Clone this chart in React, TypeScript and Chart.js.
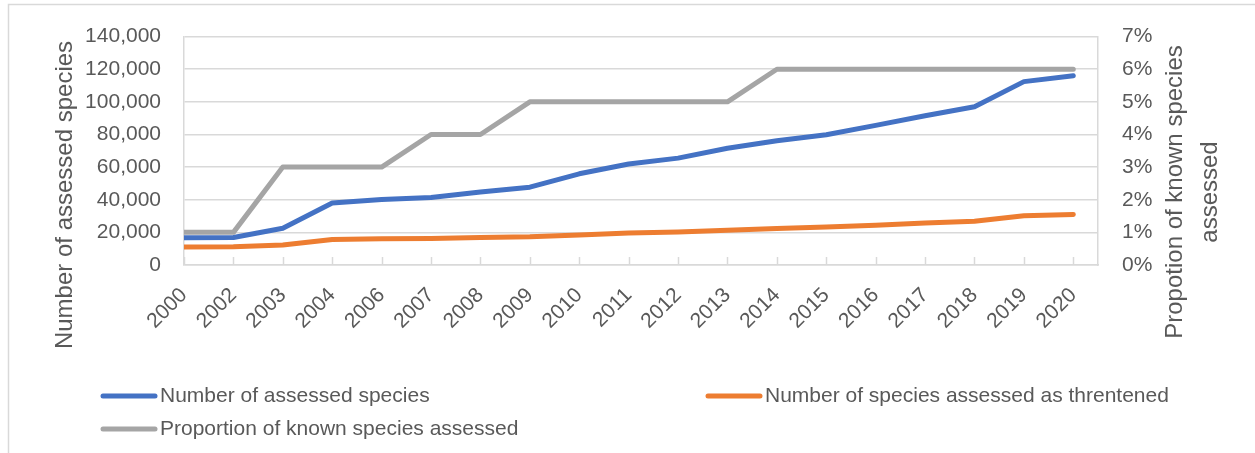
import React, { useEffect, useRef } from 'react';
import { Chart, registerables } from 'chart.js';

Chart.register(...registerables);

const years = ['2000', '2002', '2003', '2004', '2006', '2007', '2008', '2009', '2010', '2011', '2012', '2013', '2014', '2015', '2016', '2017', '2018', '2019', '2020'];
const assessedSpecies = [16700, 16900, 22500, 38000, 40200, 41400, 44800, 47700, 55900, 61900, 65500, 71600, 76200, 79800, 85600, 91500, 97000, 112400, 116000];
const threatenedSpecies = [11000, 11200, 12300, 15600, 16100, 16300, 16900, 17300, 18400, 19600, 20200, 21300, 22400, 23300, 24300, 25800, 26800, 30200, 31000];
const proportionAssessed = [1, 1, 3, 3, 3, 4, 4, 5, 5, 5, 5, 5, 6, 6, 6, 6, 6, 6, 6];

const seriesLabels = ['Number of assessed species', 'Number of species assessed as threntened', 'Proportion of known species assessed'];
const leftTitle = 'Number of assessed species';
const rightTitle = ['Propotion of known species', 'assessed'];

const BLUE = '#4472C4';
const ORANGE = '#ED7D31';
const GRAY = '#A5A5A5';
const GRID = '#d9d9d9';
const TEXT = '#595959';
const FONT = "'Liberation Sans', Arial, sans-serif";

const toPoints = (arr: number[]) => arr.map((v, i) => ({ x: i, y: v }));

const decor = {
  id: 'decor',
  beforeDraw(chart: any) {
    const ctx = chart.ctx;
    ctx.save();
    ctx.strokeStyle = GRID;
    ctx.lineWidth = 1.5;
    ctx.beginPath();
    ctx.moveTo(8.5, chart.height);
    ctx.lineTo(8.5, 4.5);
    ctx.lineTo(chart.width, 4.5);
    ctx.stroke();
    ctx.restore();
  },
  beforeDatasetsDraw(chart: any) {
    const ctx = chart.ctx;
    const xs = chart.scales.x;
    const bottom = chart.chartArea.bottom;
    ctx.save();
    ctx.strokeStyle = GRID;
    ctx.lineWidth = 1.5;
    ctx.beginPath();
    years.forEach((_, i) => {
      const x = Math.round(xs.getPixelForValue(i)) + 0.5;
      ctx.moveTo(x, bottom - 8);
      ctx.lineTo(x, bottom);
    });
    ctx.stroke();
    ctx.restore();
  },
  afterDraw(chart: any) {
    const ctx = chart.ctx;
    ctx.save();
    ctx.fillStyle = TEXT;
    ctx.textAlign = 'center';
    ctx.textBaseline = 'middle';
    ctx.font = `24px ${FONT}`;
    // left axis title
    ctx.save();
    ctx.translate(65, 195);
    ctx.rotate(-Math.PI / 2);
    ctx.fillText(leftTitle, 0, 0);
    ctx.restore();
    // right axis title
    ctx.save();
    ctx.translate(1175, 192);
    ctx.rotate(-Math.PI / 2);
    ctx.fillText(rightTitle[0], 0, 0);
    ctx.fillText(rightTitle[1], 0, 35);
    ctx.restore();
    // legend
    const slots = [
      { x: 101, y: 396 },
      { x: 706, y: 396 },
      { x: 101, y: 429 },
    ];
    ctx.font = `21px ${FONT}`;
    ctx.textAlign = 'left';
    chart.data.datasets.forEach((ds: any, i: number) => {
      const s = slots[i];
      ctx.strokeStyle = ds.borderColor;
      ctx.lineWidth = 5;
      ctx.lineCap = 'round';
      ctx.beginPath();
      ctx.moveTo(s.x + 2, s.y);
      ctx.lineTo(s.x + 54, s.y);
      ctx.stroke();
      ctx.fillText(ds.label, s.x + 59, s.y);
    });
    ctx.restore();
  },
};

export default function App() {
  const ref = useRef<HTMLCanvasElement | null>(null);

  useEffect(() => {
    if (!ref.current) return;
    const lineStyle = {
      borderWidth: 5,
      pointRadius: 0,
      pointHoverRadius: 0,
      tension: 0,
      borderCapStyle: 'round' as const,
      borderJoinStyle: 'round' as const,
      fill: false,
    };
    const chart = new Chart(ref.current, {
      type: 'line',
      data: {
        datasets: [
          { ...lineStyle, label: seriesLabels[0], data: toPoints(assessedSpecies), borderColor: BLUE, backgroundColor: BLUE, yAxisID: 'y', order: 3 },
          { ...lineStyle, label: seriesLabels[1], data: toPoints(threatenedSpecies), borderColor: ORANGE, backgroundColor: ORANGE, yAxisID: 'y', order: 2 },
          { ...lineStyle, label: seriesLabels[2], data: toPoints(proportionAssessed), borderColor: GRAY, backgroundColor: GRAY, yAxisID: 'y1', order: 1 },
        ],
      },
      options: {
        animation: false,
        responsive: false,
        layout: { padding: { top: 33, left: 0, right: 0, bottom: 0 } },
        plugins: {
          legend: { display: false },
          tooltip: { enabled: false },
        },
        scales: {
          x: {
            type: 'linear',
            min: 0,
            max: 18.5,
            grid: { display: false, drawTicks: false },
            border: { display: true, color: GRID, width: 1.5 },
            ticks: {
              stepSize: 1,
              includeBounds: false,
              autoSkip: false,
              maxRotation: 45,
              minRotation: 45,
              padding: 18,
              color: TEXT,
              font: { family: FONT, size: 21 },
              callback: (v: any) => years[v] ?? '',
            },
            afterFit: (s: any) => { s.height = 188; },
          },
          y: {
            position: 'left',
            min: 0,
            max: 140000,
            grid: { color: GRID, lineWidth: 1.5, drawTicks: false },
            border: { display: true, color: GRID, width: 1.5 },
            ticks: {
              stepSize: 20000,
              padding: 23,
              color: TEXT,
              font: { family: FONT, size: 21 },
              callback: (v: any) => Number(v).toLocaleString('en-US'),
            },
            afterFit: (s: any) => { s.width = 184; },
          },
          y1: {
            position: 'right',
            min: 0,
            max: 7,
            grid: { display: false, drawTicks: false },
            border: { display: true, color: GRID, width: 1.5 },
            ticks: {
              stepSize: 1,
              padding: 24,
              color: TEXT,
              font: { family: FONT, size: 21 },
              callback: (v: any) => `${v}%`,
            },
            afterFit: (s: any) => { s.width = 157; },
          },
        },
      },
      plugins: [decor],
    });
    return () => chart.destroy();
  }, []);

  return (
    <div style={{ position: 'absolute', left: 0, top: 0, width: 1255, height: 453, background: '#fff' }}>
      <canvas ref={ref} width={1255} height={453} style={{ width: 1255, height: 453, display: 'block' }} />
    </div>
  );
}
